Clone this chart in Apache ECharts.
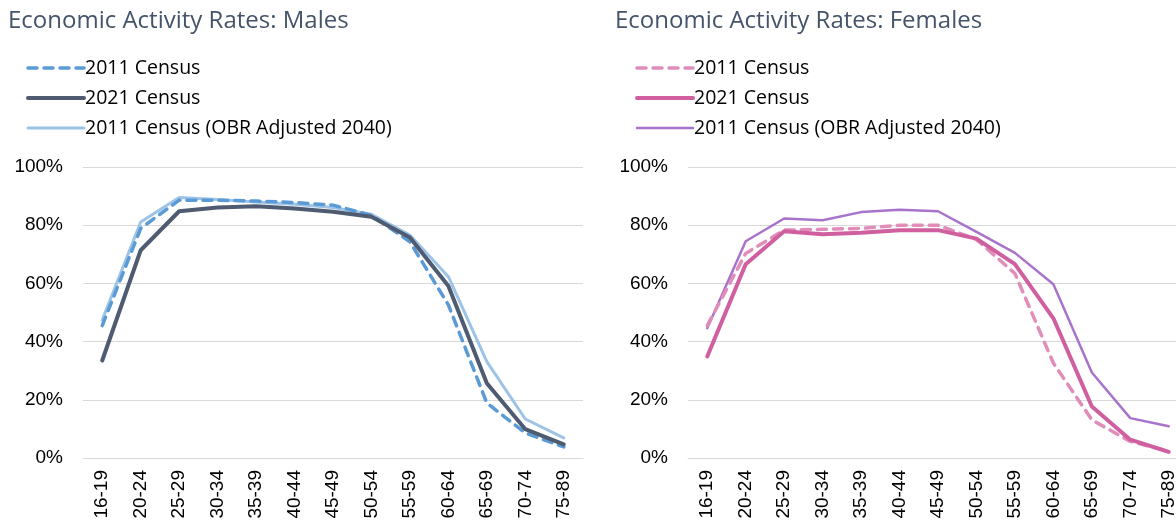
<!DOCTYPE html>
<html>
<head>
<meta charset="utf-8">
<script src="https://cdn.jsdelivr.net/npm/echarts@6/dist/echarts.min.js"></script>
<style>
  html, body { margin: 0; padding: 0; background: #fff; }
  #wrap { position: relative; width: 1176px; height: 522px; overflow: hidden; }
  #males { position: absolute; left: 0; top: 0; width: 600px; height: 522px; }
  #females { position: absolute; left: 600px; top: 0; width: 600px; height: 522px; }
</style>
</head>
<body>
<div id="wrap">
  <div id="males"></div>
  <div id="females"></div>
</div>
<script>
// Age bands
const ageBands = ['16-19', '20-24', '25-29', '30-34', '35-39', '40-44', '45-49',
                  '50-54', '55-59', '60-64', '65-69', '70-74', '75-89'];

// Economic activity rates (%), males
const males2011 = [45.5, 78.9, 88.6, 88.6, 88.3, 87.8, 86.9, 83.4, 74.3, 52.6, 18.9, 8.6, 3.8];
const males2021 = [33.5, 71.4, 84.8, 86.1, 86.5, 85.7, 84.6, 82.9, 75.8, 59.1, 25.7, 9.9, 4.7];
const males2011Obr = [47.4, 81.1, 89.5, 88.8, 88.0, 87.2, 86.1, 83.7, 76.6, 62.3, 33.1, 13.4, 6.9];

// Economic activity rates (%), females
const females2011 = [45.5, 70.3, 78.3, 78.6, 78.9, 80.0, 80.0, 75.1, 63.4, 32.6, 13.1, 5.7, 2.3];
const females2021 = [34.9, 66.6, 77.9, 76.9, 77.4, 78.3, 78.3, 75.4, 66.6, 48.0, 17.7, 6.3, 2.1];
const females2011Obr = [44.6, 74.5, 82.3, 81.7, 84.5, 85.3, 84.8, 77.7, 70.5, 59.7, 29.4, 13.7, 10.9];

const seriesNames = ['2011 Census', '2021 Census', '2011 Census (OBR Adjusted 2040)'];
const yTicks = [0, 20, 40, 60, 80, 100];

const AXIS_FONT = '"Liberation Sans", Arial, sans-serif';
const TEXT_FONT = '"Open Sans", "Noto Sans", sans-serif';

function buildOption(cfg) {
  return {
    animation: false,
    title: {
      text: cfg.title,
      left: cfg.titleLeft,
      top: 4,
      textStyle: { fontFamily: TEXT_FONT, fontSize: 24, fontWeight: 'normal', color: '#44546A' }
    },
    legend: {
      orient: 'vertical',
      left: cfg.legendLeft,
      top: 51,
      itemWidth: 56,
      itemHeight: 14,
      itemGap: 6,
      data: seriesNames,
      itemStyle: { opacity: 0, color: 'rgba(0,0,0,0)', borderWidth: 0 },
      lineStyle: { width: 'inherit', type: 'inherit', cap: 'round' },
      textStyle: { fontFamily: TEXT_FONT, fontSize: 19.5, lineHeight: 24, color: '#000', padding: [0, 0, 0, -4] }
    },
    grid: { left: cfg.gridLeft, right: cfg.gridRight, top: 167, bottom: 64 },
    xAxis: {
      type: 'category',
      data: ageBands,
      boundaryGap: true,
      axisLine: { show: true, lineStyle: { color: '#D9D9D9', width: 1 } },
      axisTick: { show: false },
      axisLabel: {
        rotate: 90,
        margin: 12,
        interval: 0,
        fontFamily: AXIS_FONT,
        fontSize: 19,
        color: '#000'
      }
    },
    yAxis: {
      type: 'value',
      min: yTicks[0],
      max: yTicks[yTicks.length - 1],
      interval: 20,
      axisLine: { show: false },
      axisTick: { show: false },
      splitLine: { lineStyle: { color: '#D9D9D9', width: 1 } },
      axisLabel: {
        margin: 20,
        fontFamily: AXIS_FONT,
        fontSize: 19,
        color: '#000',
        formatter: '{value}%'
      }
    },
    series: [
      {
        name: seriesNames[0],
        type: 'line',
        data: cfg.data[0],
        symbol: 'none',
        z: 3,
        lineStyle: { color: cfg.colors[0], width: 3.5, type: [9, 7], cap: 'round' },
        itemStyle: { color: cfg.colors[0] }
      },
      {
        name: seriesNames[1],
        type: 'line',
        data: cfg.data[1],
        symbol: 'none',
        z: 4,
        lineStyle: { color: cfg.colors[1], width: 4, cap: 'round' },
        itemStyle: { color: cfg.colors[1] }
      },
      {
        name: seriesNames[2],
        type: 'line',
        data: cfg.data[2],
        symbol: 'none',
        z: 2,
        lineStyle: { color: cfg.colors[2], width: cfg.thinWidth, cap: 'round' },
        itemStyle: { color: cfg.colors[2] }
      }
    ]
  };
}

const malesChart = echarts.init(document.getElementById('males'), null, { renderer: 'canvas' });
malesChart.setOption(buildOption({
  title: 'Economic Activity Rates: Males',
  titleLeft: 3,
  legendLeft: 21,
  gridLeft: 83,
  gridRight: 17,
  colors: ['#5B9BD5', '#4E5B71', '#9DC3E6'],
  thinWidth: 3,
  data: [males2011, males2021, males2011Obr]
}));

const femalesChart = echarts.init(document.getElementById('females'), null, { renderer: 'canvas' });
femalesChart.setOption(buildOption({
  title: 'Economic Activity Rates: Females',
  titleLeft: 10,
  legendLeft: 30,
  gridLeft: 88,
  gridRight: 12,
  colors: ['#E08DBA', '#D05FA0', '#A873CB'],
  thinWidth: 2.5,
  data: [females2011, females2021, females2011Obr]
}));
</script>
</body>
</html>
